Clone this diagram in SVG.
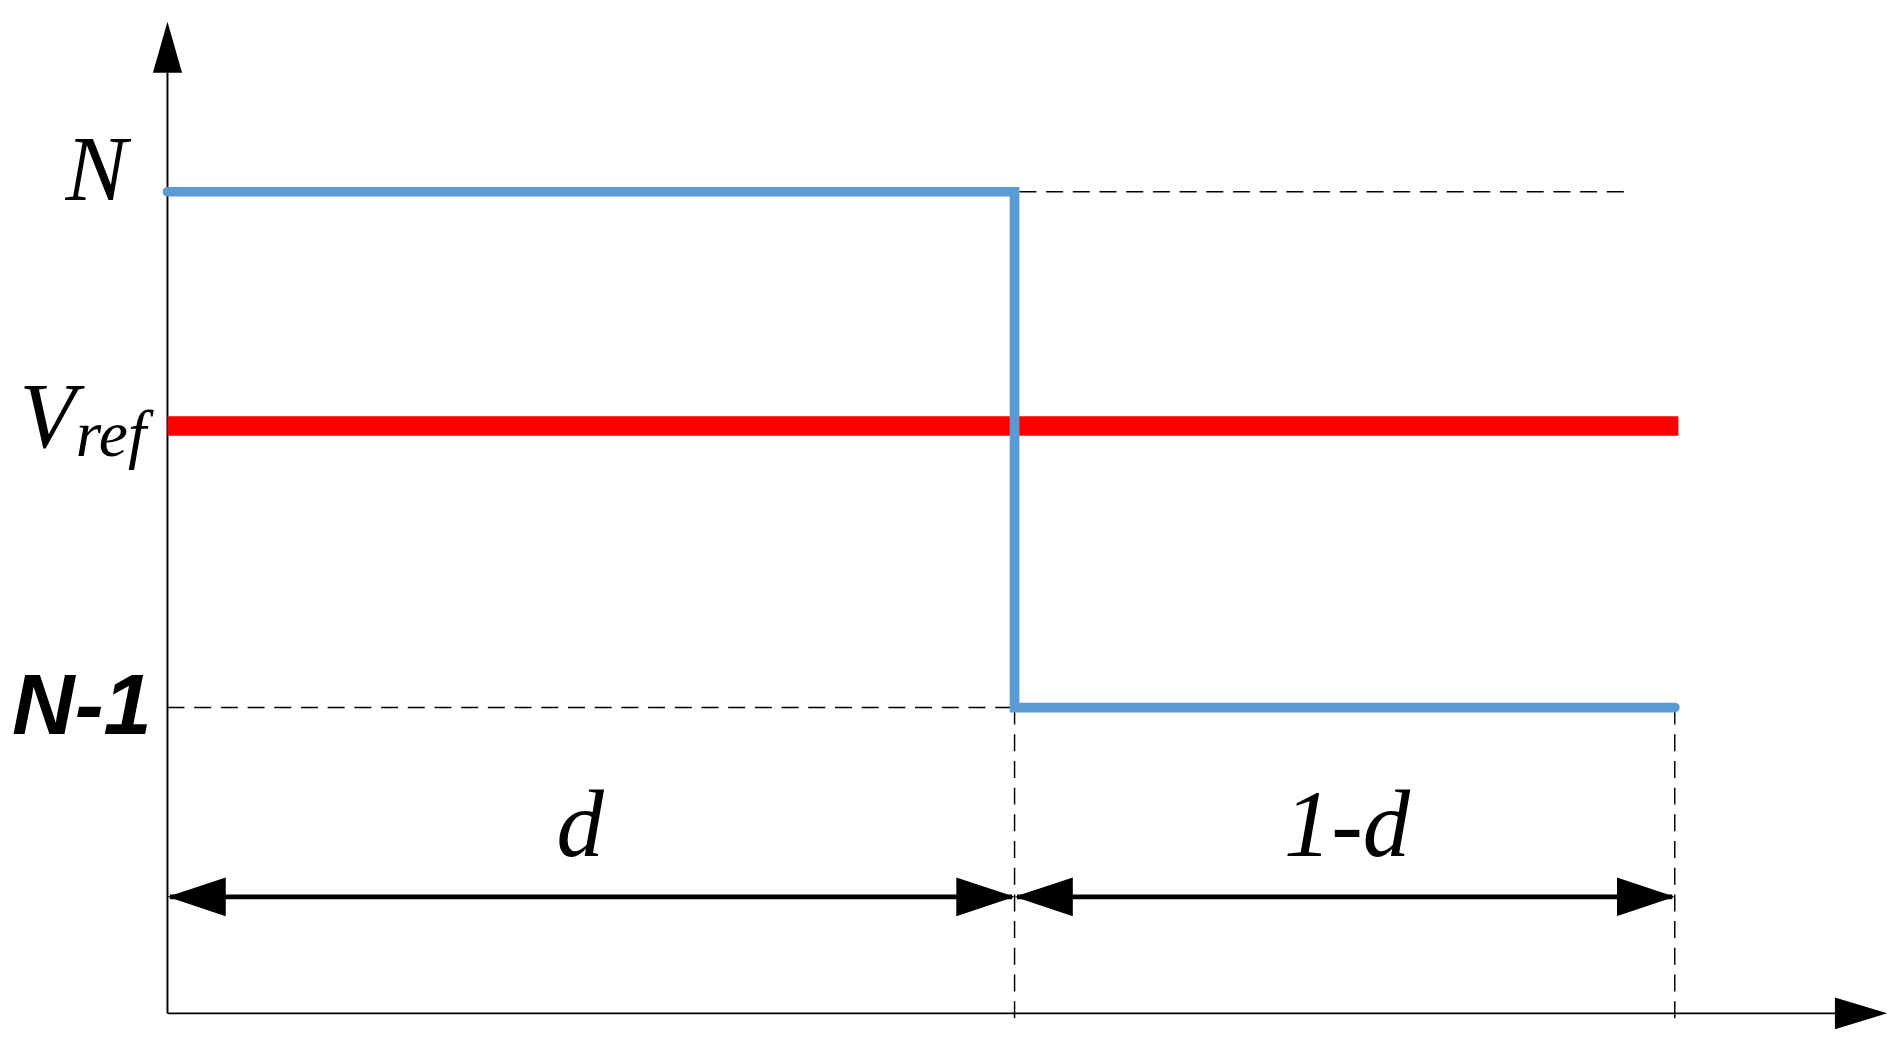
<svg xmlns="http://www.w3.org/2000/svg" width="1903" height="1049" viewBox="0 0 1903 1049">
<style>
.ax{stroke:#000;stroke-width:1.6;fill:none}
.dash{stroke:#000;stroke-width:1.2;stroke-dasharray:14 8;fill:none}
.blue{stroke:#5b9bd5;stroke-width:8;fill:none;stroke-linecap:round}
.lbl{font-family:"Liberation Serif",serif;font-style:italic;fill:#000}
</style>
<defs>
<marker id="ah" markerWidth="48" markerHeight="32" refX="46" refY="16" orient="auto-start-reverse" markerUnits="userSpaceOnUse"><path d="M0,0 L48,16 L0,32 Z" fill="#000"/></marker>
</defs>
<rect width="1903" height="1049" fill="#fff"/>
<g transform="scale(1.2136)">
<g id="axes">
<line class="ax" x1="138" y1="835" x2="138" y2="60"/>
<path d="M126,60 L138,18 L150,60 Z"/>
<line class="ax" x1="138" y1="835" x2="1515" y2="835"/>
<path d="M1512,822 L1555,835 L1512,848 Z"/>
</g>
<g id="connectors">
<line class="dash" x1="840" y1="158" x2="1345" y2="158"/>
<line class="dash" x1="138" y1="583" x2="836" y2="583"/>
<line class="dash" x1="836" y1="583" x2="836" y2="845"/>
<line class="dash" x1="1380" y1="583" x2="1380" y2="845"/>
<line x1="138" y1="351" x2="1383" y2="351" stroke="#ff0000" stroke-width="16"/>
<polyline class="blue" points="138,158 836,158 836,583 1380,583"/>
<line x1="140" y1="739" x2="834" y2="739" stroke="#000" stroke-width="4" marker-start="url(#ah)" marker-end="url(#ah)"/>
<line x1="838" y1="739" x2="1378" y2="739" stroke="#000" stroke-width="4" marker-start="url(#ah)" marker-end="url(#ah)"/>
</g>
<g id="labels">
<text class="lbl" x="54" y="165" font-size="76">N</text>
<text class="lbl" x="16" y="368" font-size="76">V<tspan font-size="54" dy="8">ref</tspan></text>
<text x="10" y="605" font-size="70" font-family="Liberation Sans,sans-serif" font-style="italic" font-weight="bold" textLength="115" lengthAdjust="spacingAndGlyphs">N-1</text>
<text class="lbl" x="478" y="705" font-size="78" text-anchor="middle">d</text>
<text class="lbl" x="1110" y="705" font-size="78" text-anchor="middle">1-d</text>
</g>
</g>
</svg>
